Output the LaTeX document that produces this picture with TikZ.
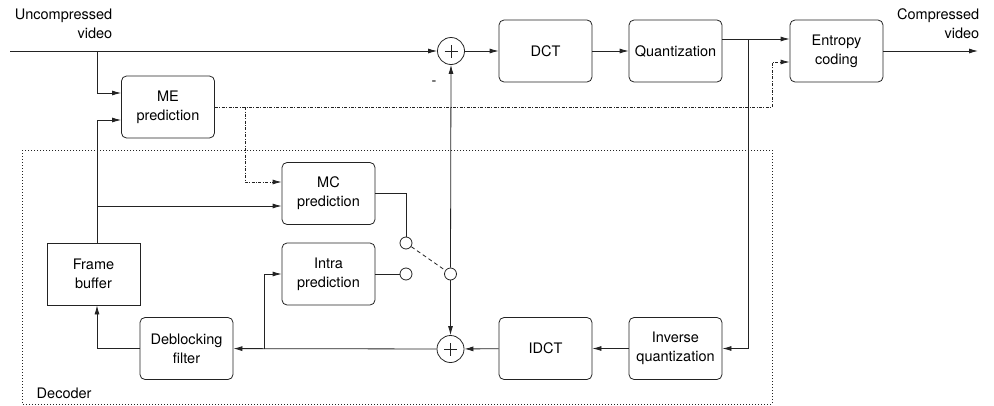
\documentclass[tikz,border=0pt]{standalone}
\usepackage{fontspec}
\setmainfont{TeX Gyre Heros}
\usetikzlibrary{calc}
\usetikzlibrary{arrows.meta}
\definecolor{linecol}{RGB}{35,35,35}

\begin{document}
\begin{tikzpicture}[x=1pt, y=-1pt, line width=0.8pt, draw=linecol,
        font=\fontsize{14.5}{19}\selectfont,
        blk/.style={draw, rounded corners=5pt, minimum width=93pt, minimum height=62pt, align=center, inner sep=1pt},
        sum/.style={draw, circle, minimum size=27pt, inner sep=0pt,
            path picture={\draw[line width=0.6pt] ([xshift=-6.5pt]path picture bounding box.center) -- ++(13pt,0pt)
                ([yshift=-6.5pt]path picture bounding box.center) -- ++(0pt,13pt);}},
        sw/.style={draw, circle, minimum size=12pt, inner sep=0pt},
        arr/.style={-{Latex[length=9pt,width=5pt]}},
        dashdot/.style={dash pattern=on 3pt off 1.5pt on 0.8pt off 1.5pt},
        decbox/.style={line width=0.7pt, dash pattern=on 0.7pt off 2.3pt}]
        \useasboundingbox (0,0) rectangle (994,405);

        % encoder path
        \coordinate (in) at (10,51);
        \node (sum1) [sum] at (451,51) {};
        \node (dct) [blk] at (545.5,51) {DCT};
        \node (quant) [blk] at (675.5,51) {Quantization};
        \node (entropy) [blk] at (836.5,51) {Entropy\\coding};
        \coordinate (out) at (978,51);
        \node (me) [blk] at (168,107) {ME\\prediction};

        % decoder path
        \node (mc) [blk] at (328.5,193.5) {MC\\prediction};
        \node (intra) [blk] at (328.5,274) {Intra\\prediction};
        \node (frame) [draw, minimum width=93pt, minimum height=62pt, align=center] at (93.5,274) {Frame\\buffer};
        \node (deblock) [blk] at (186.5,348.5) {Deblocking\\filter};
        \node (idct) [blk] at (545.5,348.5) {IDCT};
        \node (iq) [blk] at (675.5,348.5) {Inverse\\quantization};
        \node (sum2) [sum] at (450.5,349) {};

        \node (s1) [sw] at (406,243) {};
        \node (s2) [sw] at (406,274) {};
        \node (s3) [sw] at (450.5,274) {};

        \node (inlab) [anchor=east, align=right] at (116,24) {Uncompressed\\video};
        \node (outlab) [anchor=east, align=right] at (983,24) {Compressed\\video};
        \node (minus) at (434,83) {-};

        \coordinate (tap) at (97,51);
        \coordinate (fbtop) at ([xshift=3.5pt]frame.north);
        \coordinate (fbbot) at ([xshift=3.5pt]frame.south);
        \coordinate (mcin) at ([yshift=-12.5pt]mc.west);
        \coordinate (mcme) at ([yshift=11.5pt]mc.west);
        \coordinate (metap) at (245,107);
        \coordinate (mvcorner) at (772,107);
        \coordinate (qtap) at (748,39);
        \coordinate (dtap) at (264,349);

        \draw [arr] (in) -- (sum1.west);
        \draw [arr] (sum1) -- (dct);
        \draw [arr] (dct) -- (quant);
        \draw [arr] ([yshift=12pt]quant.east) -- ([yshift=12pt]entropy.west);
        \draw [arr] (entropy.east) -- (out);

        \draw [arr] (tap) |- ([yshift=14pt]me.west);
        \draw [arr] (fbtop) |- ([yshift=-13pt]me.west);
        \draw [arr] (fbtop |- mcin) -- (mcin);

        \draw [arr, dashdot] (me.east) -- (mvcorner) |- ([yshift=-11pt]entropy.west);
        \draw [arr, dashdot] (metap) |- (mcme);

        \draw [arr] (qtap) |- (iq.east);
        \draw [arr] (iq) -- (idct);
        \draw [arr] (idct) -- (sum2);
        \draw [arr] (sum2) -- (deblock);
        \draw [arr] (deblock.west) -| (fbbot);
        \draw [arr] (dtap) |- (intra.west);

        \draw (mc.east) -| (s1.north);
        \draw (intra.east) -- (s2.west);
        \draw [dash pattern=on 4pt off 3pt] (s1) -- (s3);
        \draw [arr] (s3.north) -- (sum1.south);
        \draw [arr] (s3.south) -- (sum2.north);

        \draw [decbox] (22,150) rectangle (772,404);
        \node [anchor=west] at (33,393) {Decoder};
\end{tikzpicture}
\end{document}
